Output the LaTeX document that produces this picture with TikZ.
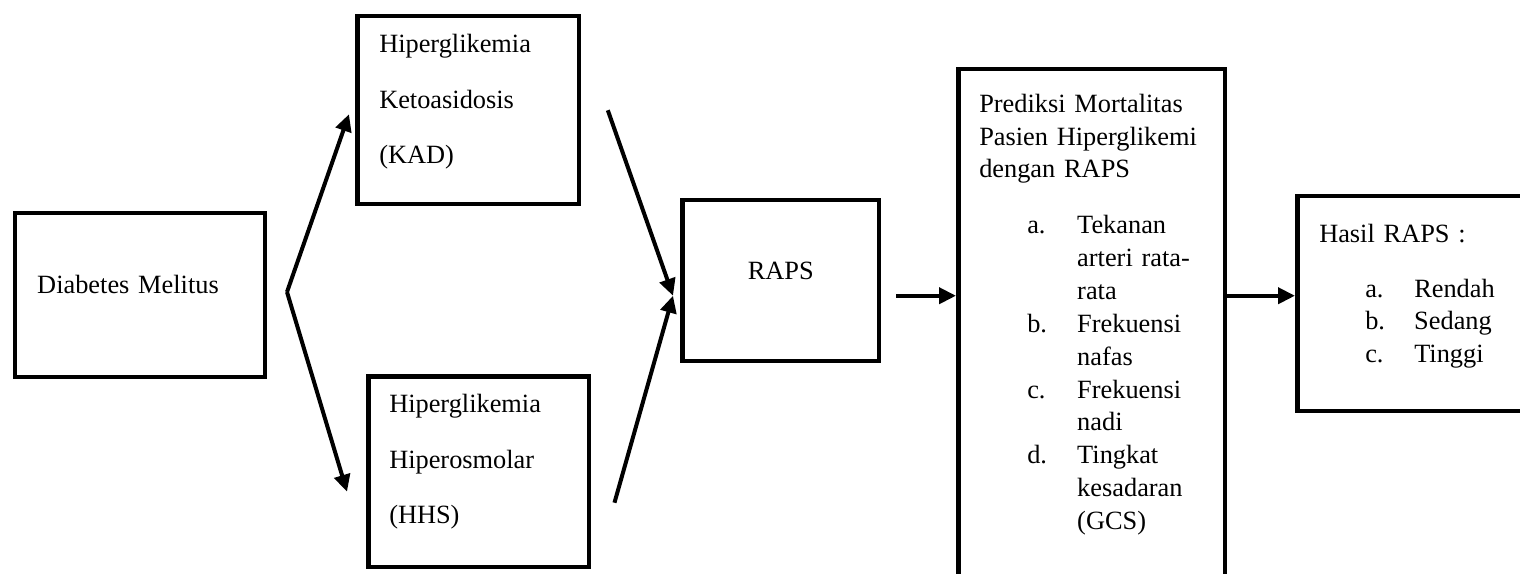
\documentclass[tikz,border=0pt]{standalone}
\usepackage{fontspec}
\setmainfont{Liberation Serif}
\usetikzlibrary{arrows.meta,positioning}

\tikzset{
  box/.style={draw, line width=0.09cm, rectangle, anchor=north west, inner ysep=0pt,
    align=left, font=\fontsize{15}{18.7}\selectfont},
  arr/.style={-{Triangle[length=0.34cm, width=0.32cm]}, line width=0.08cm},
}

\begin{document}
\begin{tikzpicture}[x=0.02cm, y=-0.02cm]
    \clip (0,0) rectangle (1520,574);

    % Boxes
    \node[box, inner xsep=0.44cm, text width=4.12cm, text height=1.6cm, text depth=1.68cm]
        (dm) at (13,211) {Diabetes Melitus};
    \node[box, inner xsep=0.44cm, text width=3.56cm, text height=0.72cm, text depth=3.04cm]
        (kad) at (355,14) {Hiperglikemia\\[0.46cm]Ketoasidosis\\[0.46cm](KAD)};
    \node[box, inner xsep=0.42cm, text width=3.58cm, text height=0.72cm, text depth=3.1cm]
        (hhs) at (366,374) {Hiperglikemia\\[0.46cm]Hiperosmolar\\[0.46cm](HHS)};
    \node[box, inner xsep=0pt, text width=3.94cm, align=center, text height=1.58cm, text depth=1.64cm]
        (raps) at (680,198) {RAPS};
    \node[box, inner xsep=0.42cm, text width=4.5cm, text height=0.86cm, text depth=9.6cm]
        (pred) at (956,67) {Prediksi Mortalitas\\
        Pasien Hiperglikemi\\
        dengan RAPS\\[0.46cm]
        \hspace*{0.96cm}\makebox[1cm][l]{a.}Tekanan\\
        \hspace*{1.96cm}arteri rata-\\
        \hspace*{1.96cm}rata\\
        \hspace*{0.96cm}\makebox[1cm][l]{b.}Frekuensi\\
        \hspace*{1.96cm}nafas\\
        \hspace*{0.96cm}\makebox[1cm][l]{c.}Frekuensi\\
        \hspace*{1.96cm}nadi\\
        \hspace*{0.96cm}\makebox[1cm][l]{d.}Tingkat\\
        \hspace*{1.96cm}kesadaran\\
        \hspace*{1.96cm}(GCS)};
    \node[box, inner xsep=0.44cm, text width=4.12cm, text height=0.92cm, text depth=3.38cm]
        (hasil) at (1295,194) {Hasil RAPS :\\[0.44cm]
        \hspace*{0.92cm}\makebox[0.98cm][l]{a.}Rendah\\
        \hspace*{0.92cm}\makebox[0.98cm][l]{b.}Sedang\\
        \hspace*{0.92cm}\makebox[0.98cm][l]{c.}Tinggi};

    % Arrow ends
    \coordinate (split) at (287,292);
    \coordinate (kadin) at ([shift={(-6,4)}]kad.west);
    \coordinate (hhsin) at ([shift={(-19,20)}]hhs.west);
    \coordinate (join) at ([shift={(-7,15)}]raps.west);

    % Arrows
    \draw[arr] (split) -- (kadin);
    \draw[arr] (split) -- (hhsin);
    \draw[arr] ([xshift=15]kad.east) -- (join);
    \draw[arr] ([shift={(23,31)}]hhs.east) -- (join);
    \draw[arr] ([shift={(15,15)}]raps.east) coordinate (rapsout) -- (pred.west |- rapsout);
    \draw[arr] (pred.east |- rapsout) -- (hasil.west |- rapsout);
\end{tikzpicture}
\end{document}
